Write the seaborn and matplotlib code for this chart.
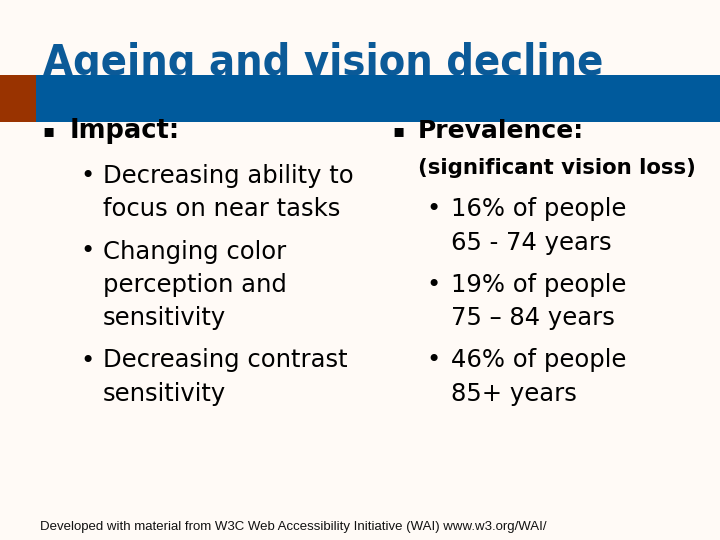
import matplotlib

matplotlib.use("Agg")
import matplotlib.pyplot as plt
import seaborn as sns

TITLE = "Ageing and vision decline"
LEFT_HEADING = "Impact:"
LEFT_ITEMS = [
    ["Decreasing ability to", "focus on near tasks"],
    ["Changing color", "perception and", "sensitivity"],
    ["Decreasing contrast", "sensitivity"],
]
RIGHT_HEADING = "Prevalence:"
RIGHT_SUBHEADING = "(significant vision loss)"
RIGHT_ITEMS = [
    ["16% of people", "65 - 74 years"],
    ["19% of people", "75 \u2013 84 years"],
    ["46% of people", "85+ years"],
]
FOOTER = "Developed with material from W3C Web Accessibility Initiative (WAI) www.w3.org/WAI/"

BG = "#FFFAF6"
BLUE = "#005A9C"
TITLE_BLUE = "#0B5A98"
RUST = "#993300"


def bullet_block(ax, items, x_dot, x_text, y_start, line_h, gap, size):
    y = y_start
    for lines in items:
        ax.text(x_dot, y, "\u2022", fontsize=size, va="center", ha="center")
        for line in lines:
            ax.text(x_text, y, line, fontsize=size, va="center", ha="left")
            y += line_h
        y += gap


def main():
    sns.set_theme(style="white")
    plt.rcParams["font.family"] = ["DejaVu Sans"]
    plt.rcParams["text.color"] = "black"

    fig = plt.figure(figsize=(7.2, 5.4), dpi=100, facecolor=BG)
    ax = fig.add_axes([0, 0, 1, 1])
    ax.set_xlim(0, 720)
    ax.set_ylim(540, 0)
    ax.set_facecolor(BG)
    ax.axis("off")

    # title, partly covered by the band below it
    ax.text(43, 75, TITLE, fontsize=31, fontweight="bold", color=TITLE_BLUE,
            va="baseline", ha="left", zorder=1, fontstretch="condensed")
    ax.add_patch(plt.Rectangle((0, 75), 36, 47, color=RUST, zorder=2, lw=0))
    ax.add_patch(plt.Rectangle((36, 75), 684, 47, color=BLUE, zorder=2, lw=0))

    # left column
    ax.text(48.5, 131, "\u25aa", fontsize=13, va="center", ha="center")
    ax.text(70, 131, LEFT_HEADING, fontsize=18.5, fontweight="bold", va="center")
    bullet_block(ax, LEFT_ITEMS, 88, 103, 176, 33.5, 8.5, 17.5)

    # right column
    ax.text(399, 131, "\u25aa", fontsize=13, va="center", ha="center")
    ax.text(418, 131, RIGHT_HEADING, fontsize=18, fontweight="bold", va="center")
    ax.text(418, 168, RIGHT_SUBHEADING, fontsize=15.3, fontweight="bold", va="center")
    bullet_block(ax, RIGHT_ITEMS, 433, 451, 209, 33.8, 8, 17.5)

    ax.text(40, 527, FOOTER, fontsize=9.5, family=["Liberation Sans"],
            color="#111111", va="center")

    fig.savefig("out.png", dpi=100, facecolor=BG)


if __name__ == "__main__":
    main()
